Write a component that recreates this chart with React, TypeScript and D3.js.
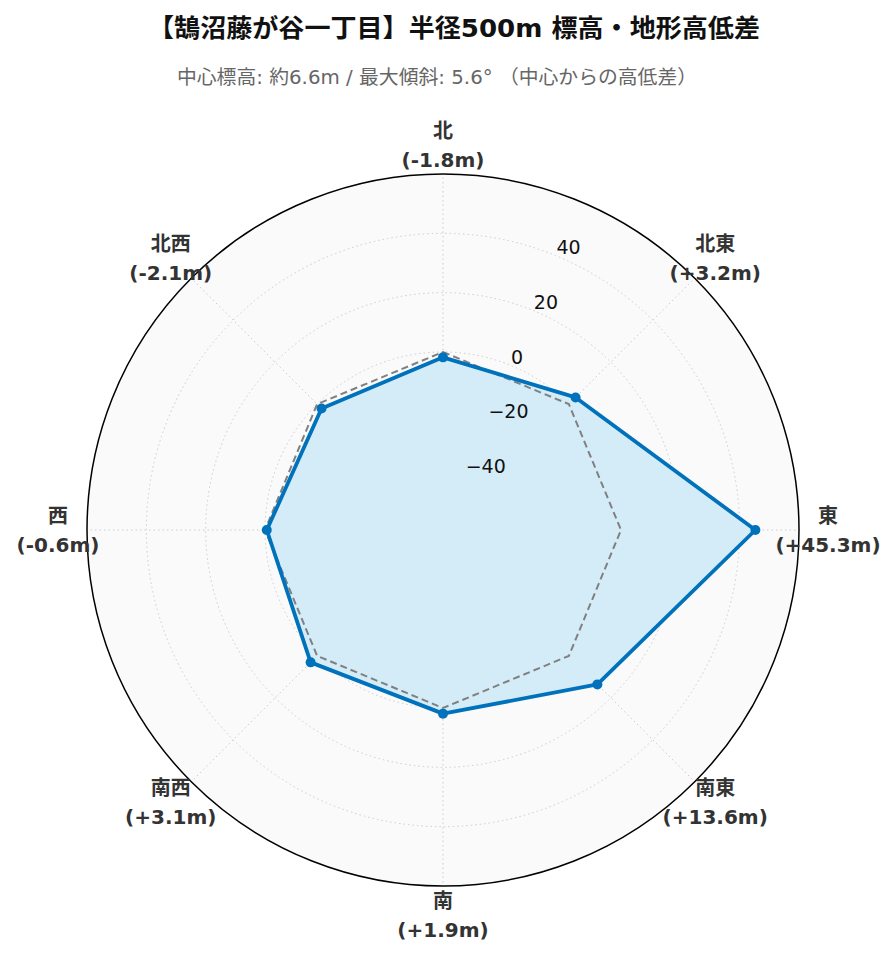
import React from "react";
import * as d3 from "d3";

const directions = ["北", "北東", "東", "南東", "南", "南西", "西", "北西"];
const elevationDiff = [-1.8, 3.2, 45.3, 13.6, 1.9, 3.1, -0.6, -2.1];
const baseline = [0, 0, 0, 0, 0, 0, 0, 0];
const radialTicks = [-40, -20, 0, 20, 40];
const title = "【鵠沼藤が谷一丁目】半径500m 標高・地形高低差";
const subtitle = "中心標高: 約6.6m / 最大傾斜: 5.6° （中心からの高低差）";

const W = 896;
const H = 962;
const cx = 443;
const cy = 530;
const R = 356;

export default function App() {
  const r = d3.scaleLinear().domain([-60, 60]).range([0, R]);
  const angle = d3
    .scalePoint<string>()
    .domain(directions)
    .range([0, 2 * Math.PI * (7 / 8)]);

  const radial = d3
    .lineRadial<number>()
    .angle((_, i) => angle(directions[i]) as number)
    .radius((d) => r(d))
    .curve(d3.curveLinearClosed);

  const pt = (a: number, rad: number) => [rad * Math.sin(a), -rad * Math.cos(a)];
  const labelFont = "'DejaVu Sans', 'Noto Sans CJK JP', sans-serif";
  const tickAngle = (22.5 * Math.PI) / 180;

  return (
    <svg width={W} height={H} style={{ display: "block", position: "absolute", left: 0, top: 0 }}>
      <rect width={W} height={H} fill="#ffffff" />
      <text
        x={454}
        y={37}
        textAnchor="middle"
        fontSize={25.5}
        fontWeight="bold"
        fontFamily={labelFont}
        fill="#111"
        textLength={612}
        lengthAdjust="spacingAndGlyphs"
      >
        {title}
      </text>
      <text
        x={437}
        y={84}
        textAnchor="middle"
        fontSize={19.5}
        fontFamily={labelFont}
        fill="#666"
        textLength={520}
        lengthAdjust="spacingAndGlyphs"
      >
        {subtitle}
      </text>
      <g transform={`translate(${cx},${cy})`}>
        <circle r={R} fill="#fafafa" />
        {radialTicks.map((t) => (
          <circle
            key={"g" + t}
            r={r(t)}
            fill="none"
            stroke="#cccccc"
            strokeWidth={1}
            strokeDasharray="1.5,3"
          />
        ))}
        {directions.map((d) => {
          const [x, y] = pt(angle(d) as number, R);
          return (
            <line
              key={"s" + d}
              x1={0}
              y1={0}
              x2={x}
              y2={y}
              stroke="#cccccc"
              strokeWidth={1}
              strokeDasharray="1.5,3"
            />
          );
        })}
        <path d={radial(elevationDiff) as string} fill="#d4ecf8" stroke="none" />
        <path
          d={radial(baseline) as string}
          fill="none"
          stroke="#808080"
          strokeWidth={2}
          strokeDasharray="7,4"
        />
        <path
          d={radial(elevationDiff) as string}
          fill="none"
          stroke="#0072bb"
          strokeWidth={3.8}
          strokeLinejoin="round"
        />
        {elevationDiff.map((v, i) => {
          const [x, y] = pt(angle(directions[i]) as number, r(v));
          return <circle key={"m" + i} cx={x} cy={y} r={5} fill="#0072bb" />;
        })}
        <circle r={R} fill="none" stroke="#000" strokeWidth={1.5} />
        {radialTicks.map((t) => {
          const [x, y] = pt(tickAngle, r(t));
          return (
            <text
              key={"t" + t}
              x={x}
              y={y - 2}
              textAnchor="start"
              fontSize={19}
              fontFamily="'DejaVu Sans', sans-serif"
              fill="#111"
            >
              {t < 0 ? "\u2212" + Math.abs(t) : String(t)}
            </text>
          );
        })}
        {directions.map((d, i) => {
          const [x, y] = pt(angle(d) as number, 385);
          const v = elevationDiff[i];
          const s = (v >= 0 ? "+" : "-") + Math.abs(v).toFixed(1) + "m";
          return (
            <text
              key={"l" + d}
              x={x}
              textAnchor="middle"
              fontSize={20}
              fontWeight="bold"
              fontFamily={labelFont}
              fill="#333"
            >
              <tspan x={x} y={y - 7}>
                {d}
              </tspan>
              <tspan x={x} y={y + 22}>
                {"(" + s + ")"}
              </tspan>
            </text>
          );
        })}
      </g>
    </svg>
  );
}
